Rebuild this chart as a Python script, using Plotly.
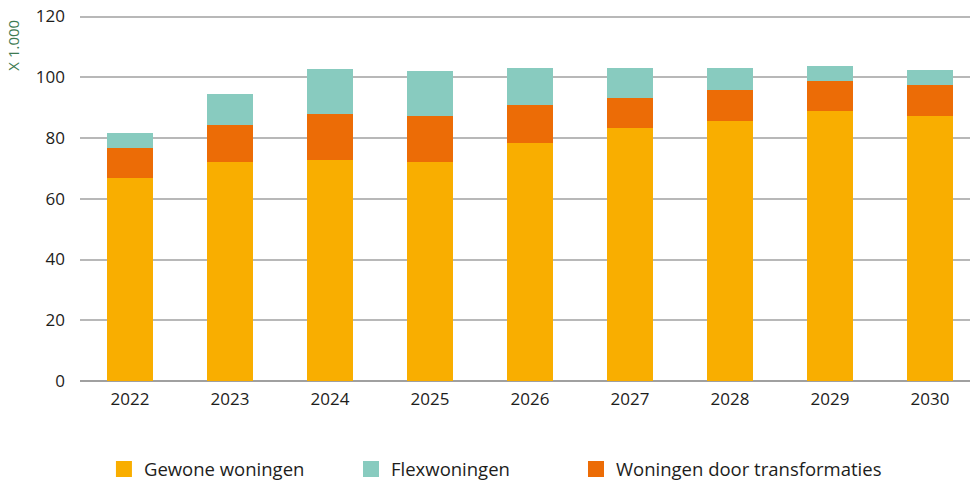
import plotly.graph_objects as go

years = ["2022", "2023", "2024", "2025", "2026", "2027", "2028", "2029", "2030"]
gewone = [66.9, 72.2, 72.8, 72.2, 78.4, 83.4, 85.7, 89.0, 87.3]
transformaties = [9.9, 12.1, 15.2, 15.1, 12.5, 9.9, 10.2, 9.8, 10.2]
flex = [4.9, 10.3, 14.8, 14.8, 12.2, 9.8, 7.2, 5.0, 4.9]
y_ticks = [0, 20, 40, 60, 80, 100, 120]

c_gewone = "#F9AE00"
c_flex = "#88CBBF"
c_trans = "#EC6C06"

fig = go.Figure()
for nm, vals, col in [("Gewone woningen", gewone, c_gewone),
                      ("Woningen door transformaties", transformaties, c_trans),
                      ("Flexwoningen", flex, c_flex)]:
    fig.add_bar(x=years, y=vals, marker=dict(color=col, line=dict(width=0)),
                width=0.46, showlegend=False, name=nm)

for nm, col, lg in [("Gewone woningen", c_gewone, "legend"),
                    ("Flexwoningen", c_flex, "legend2"),
                    ("Woningen door transformaties", c_trans, "legend3")]:
    fig.add_scatter(x=[None], y=[None], mode="markers", name=nm, legend=lg,
                    marker=dict(symbol="square", size=22, color=col), showlegend=True)

leg_common = dict(orientation="h", xanchor="left", y=-0.19, yanchor="top",
                  font=dict(size=18.5), itemsizing="trace", bgcolor="rgba(0,0,0,0)")

fig.update_layout(
    barmode="stack",
    width=970, height=480,
    margin=dict(l=80, r=0, t=15, b=99, autoexpand=False),
    plot_bgcolor="white", paper_bgcolor="white",
    font=dict(family="Open Sans", size=16, color="#1d1d1b"),
    legend=dict(x=0.0269, **leg_common),
    legend2=dict(x=0.3045, **leg_common),
    legend3=dict(x=0.5573, **leg_common),
    annotations=[dict(text="X 1.000", xref="paper", yref="paper", x=-0.075, y=0.992,
                      xanchor="center", yanchor="top", textangle=-90, showarrow=False,
                      font=dict(size=15, color="#3d7a52"))],
)
fig.update_xaxes(range=[-0.5, 8.4], showgrid=False, showline=False, ticks="",
                 tickfont=dict(size=17), ticklabelstandoff=6, automargin=False)
fig.update_yaxes(range=[0, 120.5], tickvals=y_ticks, showgrid=True, gridcolor="#b8b8b8",
                 gridwidth=1.5, zeroline=True, zerolinecolor="#a0a0a0", zerolinewidth=2,
                 showline=False, tickfont=dict(size=17), ticklabelstandoff=14, automargin=False)

fig.write_html("out.html", config={"displayModeBar": False},
               post_script="document.body.style.margin='0';document.body.style.overflow='hidden';")
